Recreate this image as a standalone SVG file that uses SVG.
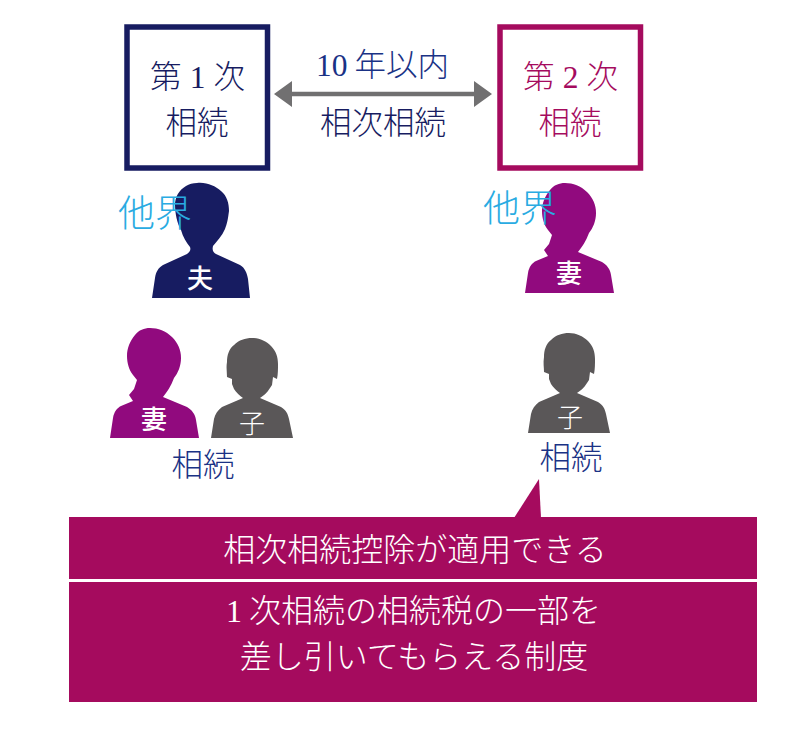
<svg xmlns="http://www.w3.org/2000/svg" width="800" height="737" viewBox="0 0 800 737">
<style>
text{font-family:"Noto Sans CJK JP","Noto Sans CJK SC",sans-serif;font-weight:300;text-anchor:middle}
.latin{font-family:"Liberation Serif","Noto Sans CJK JP",serif}
.navy{fill:#171c61}.blue{fill:#1a3285}.crim{fill:#a50b5e}.sky{fill:#29abe2}.wh{fill:#fff}
.t30{font-size:31.500px}.t32{font-size:32px}.t36{font-size:37px}.t25{font-weight:500;font-size:26px}.thin{font-weight:300}
</style>
<defs>
<path id="man" d="M197 183C207 182 215 186 221 191C227 196 229 203 229 211C228 219 227 224 225 229C222 236 217 241 213 246C212 250 213 252 216 254L240 265C245 268 247 273 248 279L250 298L152 298L155 278C156 272 158 268 163 265L187 254C190 252 191 250 190 247C186 242 183 237 181 230C177 224 175 212 175 205C175 197 179 190 186 186C189 184 193 183 197 183Z"/>
<path id="child" d="M252 338C259 338 266 341 271 346C276 351 278 357 278 364C278 369 278 374 277 379L273 377L272 385L270 388C267 393 263 396 260 398L281 407C286 410 288 414 289 419L293 438L211 438L214 419C215 414 218 410 222 407L243 398C240 396 236 392 234 389L232 384L232 379L227 377C227 372 226 368 227 362C227 355 229 349 234 345C239 340 245 338 252 338Z"/>
<path id="wife" d="M150 328C158 328 166 331 172 337C178 343 181 350 181 358C181 366 178 373 174 378C171 386 167 392 163 397L187 407C192 410 195 414 196 420L199 438L110 438L113 418C114 412 117 408 121 406L133 401L129 395L134 389L137 380L133 375C129 370 127 363 127 356C127 348 130 341 135 335C139 330 144 328 150 328Z"/>
</defs>
<g id="box1"><rect x="127" y="27" width="140.500" height="141" fill="#fff" stroke="#171c61" stroke-width="5.500"/>
<text class="t30 navy" x="197.500" y="88"><tspan>第</tspan><tspan class="latin" dx="8">1</tspan><tspan dx="8">次</tspan></text>
<text class="t30 navy" x="197" y="134">相続</text></g>
<g id="box2"><rect x="500" y="27" width="140.500" height="141" fill="#fff" stroke="#a50b5e" stroke-width="5.500"/>
<text class="t30 crim" x="570.500" y="88"><tspan>第</tspan><tspan class="latin" dx="8">2</tspan><tspan dx="8">次</tspan></text>
<text class="t30 crim" x="570" y="134">相続</text></g>
<g id="connectors">
<path d="M288 94H478" stroke="#717071" stroke-width="4.500" fill="none"/>
<path d="M274 94L292 81V107Z M492 94L474 81V107Z" fill="#717071"/>
<path d="M514 518L539 479L541 518Z" fill="#a50b5e"/>
</g>
<g id="label-years"><text class="t30 blue" x="382.500" y="76"><tspan class="latin">10</tspan><tspan dx="7">年以内</tspan></text></g>
<g id="label-mutual"><text class="t30 navy" x="383" y="134">相次相続</text></g>
<g id="husband"><use href="#man" class="navy"/><text class="t25 wh" x="200" y="288">夫</text></g>
<g id="wife1"><use href="#wife" fill="#910a7e"/><text class="t25 wh" x="154" y="429">妻</text></g>
<g id="child1"><use href="#child" fill="#5a5758"/><text class="t25 wh thin" x="252" y="433">子</text></g>
<g id="wife2"><use href="#wife" x="415" y="-145" fill="#910a7e"/><text class="t25 wh" x="569" y="283">妻</text></g>
<g id="child2"><use href="#child" x="317" y="-5" fill="#5a5758"/><text class="t25 wh thin" x="570" y="427">子</text></g>
<g id="deceased1"><text class="t36 sky" x="155" y="227">他界</text></g>
<g id="deceased2"><text class="t36 sky" x="520" y="222">他界</text></g>
<g id="inherit1"><text class="t30 blue" x="203" y="476">相続</text></g>
<g id="inherit2"><text class="t30 blue" x="571" y="469">相続</text></g>
<g id="banner">
<rect x="69" y="517" width="688" height="185" fill="#a50b5e"/>
<rect x="69" y="579" width="688" height="3" fill="#fff"/>
<text class="t32 wh" x="415" y="561">相次相続控除が適用できる</text>
<text class="t32 wh" x="413.500" y="622"><tspan class="latin">1</tspan><tspan dx="7">次相続の相続税の一部を</tspan></text>
<text class="t32 wh" x="414" y="668">差し引いてもらえる制度</text>
</g>
</svg>
